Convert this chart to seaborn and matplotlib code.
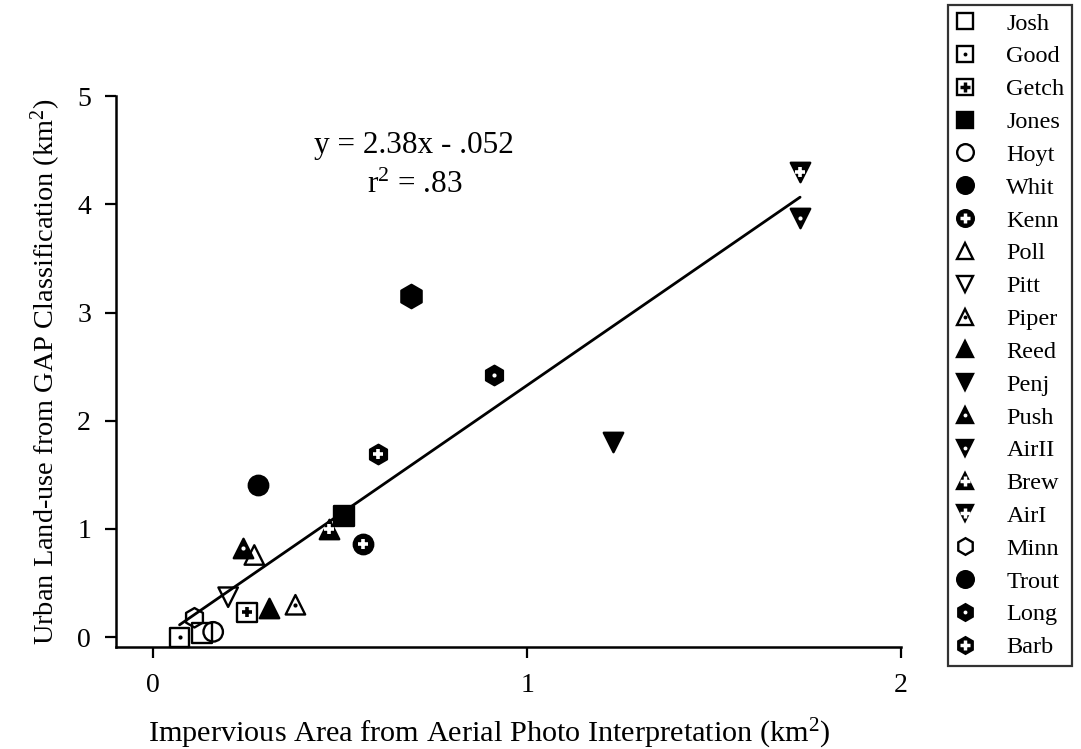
import matplotlib
matplotlib.use("Agg")
import matplotlib.pyplot as plt
from matplotlib.lines import Line2D
import numpy as np
import pandas as pd
import seaborn as sns

# Watershed sites and their areas (km^2)
sites = ["Josh", "Good", "Getch", "Jones", "Hoyt", "Whit", "Kenn", "Poll", "Pitt",
         "Piper", "Reed", "Penj", "Push", "AirII", "Brew", "AirI", "Minn", "Trout",
         "Long", "Barb"]
impervious = [0.13, 0.07, 0.25, 0.51, 0.16, 0.28, 0.56, 0.27, 0.20,
              0.38, 0.31, 1.23, 0.24, 1.73, 0.47, 1.73, 0.11, 0.69,
              0.91, 0.60]
urban = [0.04, 0.00, 0.23, 1.12, 0.05, 1.41, 0.86, 0.76, 0.37,
         0.30, 0.27, 1.80, 0.82, 3.87, 1.00, 4.30, 0.18, 3.15,
         2.42, 1.69]

# Fitted regression
slope = 2.38
intercept = -0.052
r_squared = 0.83

# Marker style per site: (marker, filled, inner mark)
styles = {
    "Josh": ("s", False, None), "Good": ("s", False, "dot"), "Getch": ("s", False, "plus"),
    "Jones": ("s", True, None), "Hoyt": ("o", False, None), "Whit": ("o", True, None),
    "Kenn": ("o", True, "plus"), "Poll": ("^", False, None), "Pitt": ("v", False, None),
    "Piper": ("^", False, "dot"), "Reed": ("^", True, None), "Penj": ("v", True, None),
    "Push": ("^", True, "dot"), "AirII": ("v", True, "dot"), "Brew": ("^", True, "plus"),
    "AirI": ("v", True, "plus"), "Minn": ("h", False, None), "Trout": ("o", True, None),
    "Long": ("h", True, "dot"), "Barb": ("h", True, "plus"),
}
plot_marker_override = {"Trout": "h"}
size_scale = {"Trout": 1.2}

df = pd.DataFrame({"site": sites, "impervious": impervious, "urban": urban})

sns.set_style("ticks")
plt.rcParams["font.family"] = ["Liberation Serif", "DejaVu Serif"]
plt.rcParams["mathtext.fontset"] = "custom"
plt.rcParams["mathtext.rm"] = "Liberation Serif"
plt.rcParams["mathtext.it"] = "Liberation Serif"
plt.rcParams["text.color"] = "black"
plt.rcParams["axes.labelcolor"] = "black"

fig = plt.figure(figsize=(10.81, 7.49), dpi=100)
ax = fig.add_axes([0.1073, 0.1362, 0.7262, 0.7356])

MS = 14
for _, row in df.iterrows():
    mk, filled, inner = styles[row.site]
    mk = plot_marker_override.get(row.site, mk)
    sub = df[df.site == row.site]
    ms = MS * size_scale.get(row.site, 1.0)
    sns.scatterplot(data=sub, x="impervious", y="urban", marker=mk, s=ms ** 2,
                    facecolor="black" if filled else "none", edgecolor="black",
                    linewidth=1.7, ax=ax, zorder=3, clip_on=False, legend=False)
    if inner is not None:
        ic = "white" if filled else "black"
        if inner == "dot":
            ax.scatter(sub.impervious, sub.urban, marker="o", s=9, color=ic,
                       linewidth=0, zorder=4, clip_on=False)
        else:
            ax.scatter(sub.impervious, sub.urban, marker="+", s=45, color=ic,
                       linewidth=2.6, zorder=4, clip_on=False)

# Regression line over the observed range
x_fit = np.array([min(impervious), max(impervious)])
sns.lineplot(x=x_fit, y=slope * x_fit + intercept, color="black", linewidth=2,
             ax=ax, zorder=2)

ax.text(0.38, 0.911, f"y = {slope:.2f}x - {abs(intercept):.3f}".replace("0.", "."),
        transform=ax.transAxes, ha="center", va="center", fontsize=22.5)
ax.text(0.38, 0.838, "r$^2$ = " + f"{r_squared:.2f}".lstrip("0"),
        transform=ax.transAxes, ha="center", va="center", fontsize=22.5)

ax.set_xlim(-0.1, 2.0)
ax.set_ylim(-0.09, 5.0)
ax.set_xticks([0, 1, 2])
ax.set_yticks([0, 1, 2, 3, 4, 5])
ax.set_xticklabels(["0", "1", "2"])
ax.set_yticklabels(["0", "1", "2", "3", "4", "5"])
sns.despine(ax=ax)
for sp in ["left", "bottom"]:
    ax.spines[sp].set_linewidth(1.8)
    ax.spines[sp].set_color("black")
ax.tick_params(direction="out", length=8, width=1.6, labelsize=20, colors="black")
ax.tick_params(axis="x", pad=11)
ax.tick_params(axis="y", pad=10)
ax.set_xlabel("Impervious Area from Aerial Photo Interpretation (km$^2$)",
              fontsize=21.8)
ax.xaxis.set_label_coords(0.475, -0.127)
ax.set_ylabel("Urban Land-use from GAP Classification (km$^2$)", fontsize=20.4,
              labelpad=10)

# Legend with composite symbols
handles = []
LMS = 12
for s in sites:
    mk, filled, inner = styles[s]
    base = Line2D([], [], linestyle="none", marker=mk, markersize=LMS,
                  markerfacecolor="black" if filled else "none",
                  markeredgecolor="black", markeredgewidth=1.7)
    if inner is None:
        handles.append(base)
    else:
        ic = "white" if filled else "black"
        if inner == "dot":
            extra = Line2D([], [], linestyle="none", marker="o", markersize=2.8,
                           color=ic, markeredgewidth=0)
        else:
            extra = Line2D([], [], linestyle="none", marker="+", markersize=6.5,
                           color=ic, markeredgewidth=2.5)
        handles.append((base, extra))

leg = fig.legend(handles, sites, loc="upper left", bbox_to_anchor=(0.877, 0.993),
                 frameon=True, fancybox=False, fontsize=17.5, handlelength=0.8,
                 handletextpad=1.3, labelspacing=0.445, borderpad=0.3,
                 borderaxespad=0)
leg.get_frame().set_edgecolor("black")
leg.get_frame().set_linewidth(1.6)

fig.savefig("out.png", dpi=100, facecolor="white")
